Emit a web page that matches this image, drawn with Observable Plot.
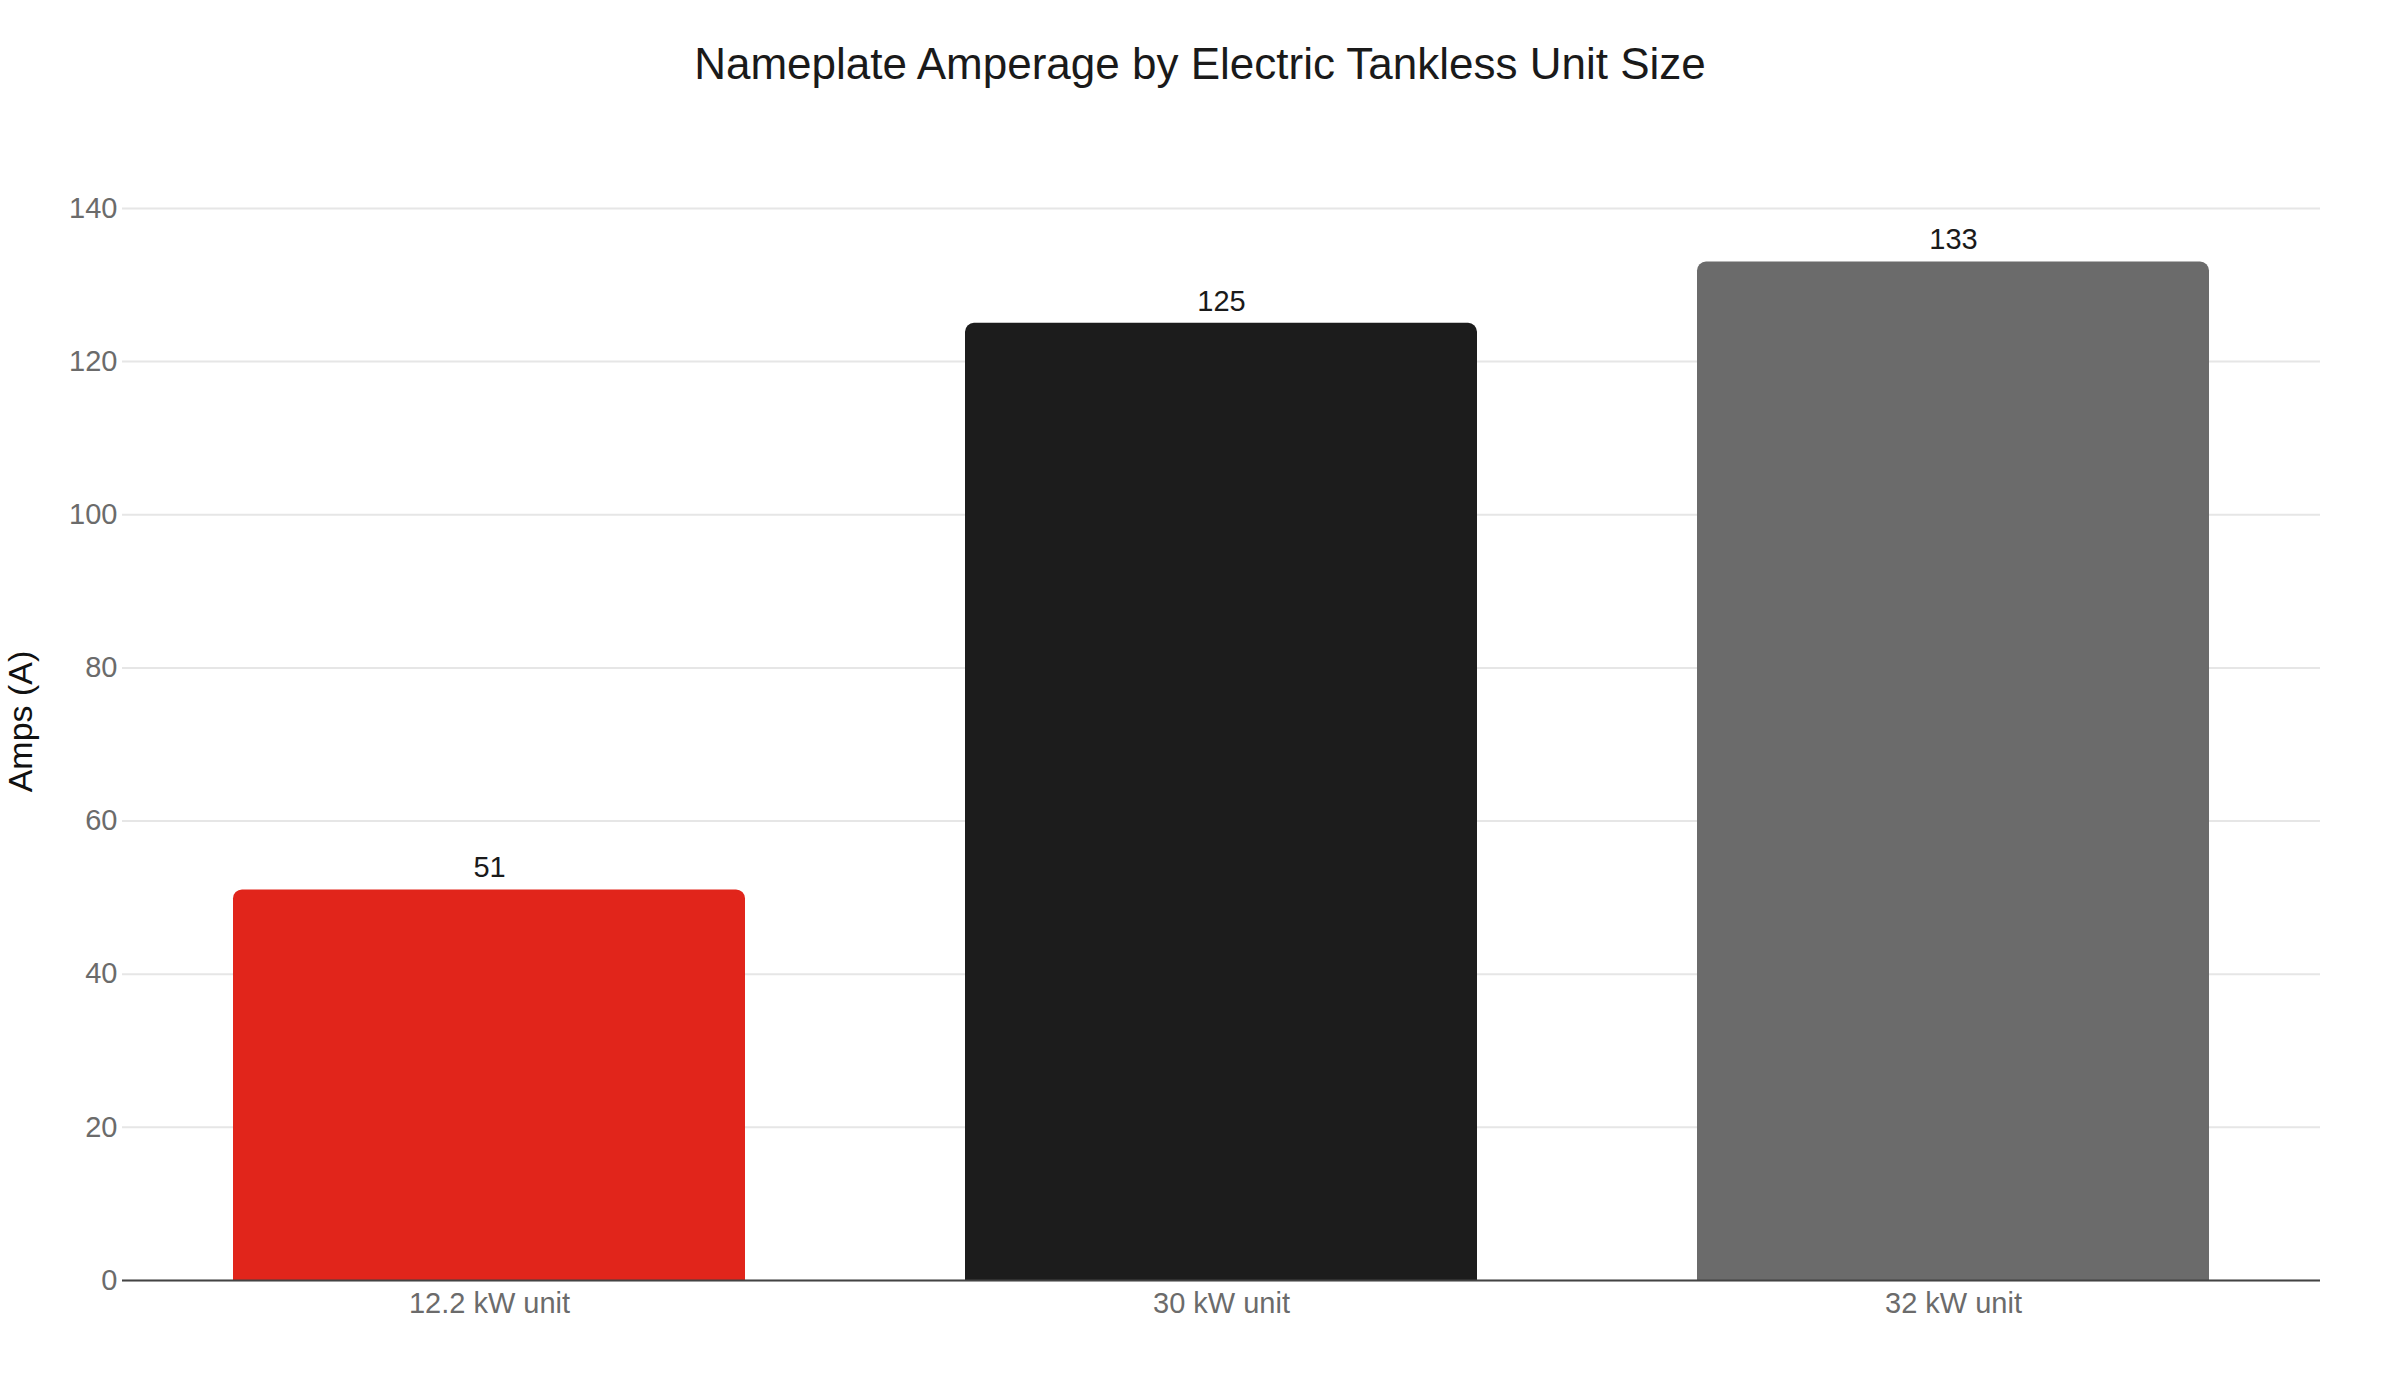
<!DOCTYPE html>
<html>
<head>
<meta charset="utf-8">
<script src="https://cdn.jsdelivr.net/npm/d3@7"></script>
<script src="https://cdn.jsdelivr.net/npm/@observablehq/plot@0.6"></script>
<style>
  html, body { margin: 0; padding: 0; background: #ffffff; overflow: hidden; }
  #wrap { width: 2400px; height: 1400px; }
  #title { width: 2400px; height: 128px; line-height: 128px; text-align: center;
    font-family: "Liberation Sans", Arial, Helvetica, sans-serif; font-size: 44px; color: #1a1a1a; }
  svg { display: block; }
</style>
</head>
<body>
<div id="wrap">
  <div id="title">Nameplate Amperage by Electric Tankless Unit Size</div>
  <div id="chart"></div>
</div>
<script>
const categories = ["12.2 kW unit", "30 kW unit", "32 kW unit"];
const amps = [51, 125, 133];
const barColors = ["#e1251b", "#1c1c1c", "#6b6b6b"];
const yTicks = [0, 20, 40, 60, 80, 100, 120, 140];
const yLabel = "Amps (A)";

const data = categories.map((c, i) => ({unit: c, amps: amps[i]}));

const chart = Plot.plot({
  width: 2400,
  height: 1272,
  marginTop: 34,
  marginBottom: 120,
  marginLeft: 122,
  marginRight: 80,
  style: {fontFamily: "'Liberation Sans', Arial, Helvetica, sans-serif", fontSize: "29px", background: "#ffffff"},
  x: {domain: categories, paddingInner: 0.3, paddingOuter: 0.15, axis: null},
  y: {domain: [0, 146], axis: null},
  color: {domain: categories, range: barColors},
  marks: [
    Plot.gridY(yTicks, {stroke: "#e6e6e6", strokeOpacity: 1, strokeWidth: 2}),
    Plot.barY(data, {x: "unit", y: "amps", fill: "unit", rx: 9, insetBottom: -14, clip: true}),
    Plot.ruleY([0], {stroke: "#444444", strokeWidth: 2}),
    Plot.axisY(yTicks, {tickSize: 0, tickPadding: 5, fill: "#6b6b6b", fontSize: 29, label: null}),
    Plot.axisX({tickSize: 0, tickPadding: 12, fill: "#6b6b6b", fontSize: 29, label: null}),
    Plot.text(data, {x: "unit", y: "amps", text: d => String(d.amps), dy: -22, fill: "#1a1a1a", fontSize: 29}),
    Plot.text([yLabel], {frameAnchor: "left", text: d => d, textAnchor: "middle", rotate: -90, dx: -101, fontSize: 34, fill: "#111111"})
  ]
});
document.getElementById("chart").appendChild(chart);
</script>
</body>
</html>
